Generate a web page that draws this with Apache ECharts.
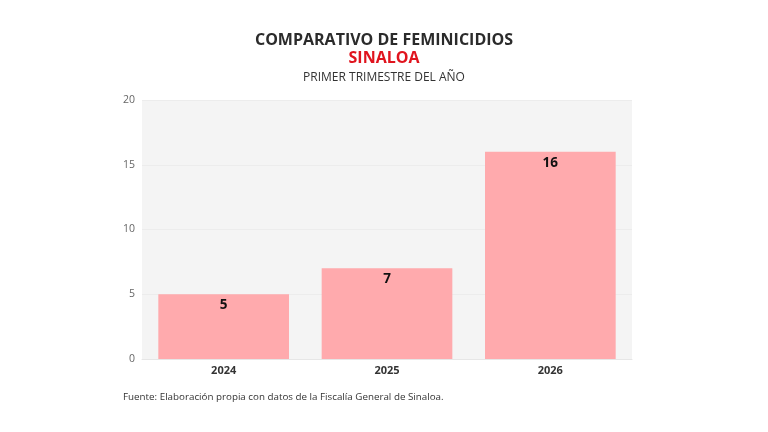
<!DOCTYPE html>
<html><head><meta charset="utf-8">
<script src="https://cdn.jsdelivr.net/npm/echarts@6/dist/echarts.min.js"></script>
<style>html,body{margin:0;padding:0;background:#fff}#c{width:768px;height:432px}</style>
</head><body><div id="c"></div>
<script>
const categories = ['2024', '2025', '2026'];
const values = [5, 7, 16];
const yTicks = [0, 5, 10, 15, 20];

const F = 'Open Sans';
const chart = echarts.init(document.getElementById('c'));
chart.setOption({
  backgroundColor: '#ffffff',
  animation: false,
  title: [
    {text: 'COMPARATIVO DE FEMINICIDIOS', left: 384, top: 32, textAlign: 'center', padding: 0,
     textStyle: {fontFamily: F, fontWeight: 'bold', fontSize: 16, color: '#2b2b2b'}},
    {text: 'SINALOA', left: 384, top: 50, textAlign: 'center', padding: 0,
     textStyle: {fontFamily: F, fontWeight: 'bold', fontSize: 16, color: '#e0141e'}},
    {text: 'PRIMER TRIMESTRE DEL AÑO', left: 384, top: 72, textAlign: 'center', padding: 0,
     textStyle: {fontFamily: F, fontWeight: 'normal', fontSize: 12, color: '#333'}},
    {text: 'Fuente: Elaboración propia con datos de la Fiscalía General de Sinaloa.', left: 123, top: 392, padding: 0,
     textStyle: {fontFamily: F, fontWeight: 'normal', fontSize: 9.8, color: '#333'}}
  ],
  grid: {left: 142, right: 136, top: 100, bottom: 73, show: true, backgroundColor: '#f4f4f4', borderWidth: 0},
  xAxis: {
    type: 'category', data: categories,
    axisLine: {show: true, lineStyle: {color: '#e6e6e6'}}, axisTick: {show: false},
    axisLabel: {fontFamily: F, fontWeight: 'bold', fontSize: 11, color: '#333', margin: 6}
  },
  yAxis: {
    type: 'value', min: yTicks[0], max: yTicks[yTicks.length - 1], interval: 5,
    axisLine: {show: false}, axisTick: {show: false},
    axisLabel: {fontFamily: F, fontSize: 10.5, color: '#666', margin: 7},
    splitLine: {lineStyle: {color: '#ececec', width: 1}}
  },
  series: [{
    type: 'bar', data: values, barWidth: '80%',
    itemStyle: {color: '#ffaaad'},
    label: {show: true, position: 'insideTop', distance: 4, fontFamily: F, fontWeight: 'bold', fontSize: 13.5, color: '#111'}
  }]
});
</script></body></html>
